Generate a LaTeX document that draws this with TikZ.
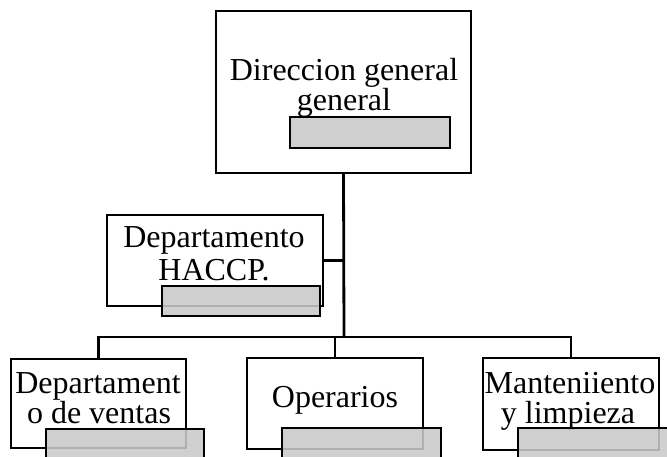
\documentclass[tikz,border=0pt]{standalone}
\usepackage{fontspec}
\setmainfont{Liberation Serif}
\begin{document}
\begin{tikzpicture}[x=1pt,y=-1pt,
  box/.style={draw=black,line width=2.6pt,fill=white,inner sep=0pt,outer sep=0pt},
  tag/.style={draw=black,line width=2.4pt,fill={rgb,255:red,201;green,201;blue,201},fill opacity=0.875,draw opacity=1,inner sep=0pt,outer sep=0pt,anchor=north west},
  lbl/.style={anchor=base,inner sep=0pt,font=\fontsize{32}{32}\selectfont},
  wire/.style={line width=2.8pt}]
\useasboundingbox (0,0) rectangle (667,456);
% boxes
\node[box,minimum width=255pt,minimum height=162pt] (top) at (343.5,92) {};
\node[box,minimum width=216pt,minimum height=91pt] (haccp) at (215,260.5) {};
\node[box,minimum width=175pt,minimum height=89pt] (b1) at (98.5,403.5) {};
\node[box,minimum width=176pt,minimum height=91pt] (b2) at (335,403.5) {};
\node[box,minimum width=176pt,minimum height=92pt] (b3) at (571,404) {};
% connectors
\coordinate (j) at (344,337);
\draw[wire] (top.south) -- (j);
\draw[wire] (haccp.east) -- (haccp.east -| j);
\draw[wire] (b1.north) |- (j) -| (b3.north);
\draw[wire] (b2.north) -- (b2.north |- j);
% texts
\node[lbl] (t1a) at (344,80) {Direccion general};
\node[lbl] (t1b) at (344,110) {general};
\node[lbl] (t2a) at (214,247) {Departamento};
\node[lbl] (t2b) at (214,280) {HACCP.};
\node[lbl] (t3a) at (98,393) {Departament};
\node[lbl] (t3b) at (99,423) {o de ventas};
\node[lbl] (t4) at (335,407) {Operarios};
\node[lbl] (t5a) at (570,393) {Manteniiento};
\node[lbl] (t5b) at (568,423) {y limpieza};
% gray tags
\node[tag,minimum width=160pt,minimum height=31pt] (g1) at (290,117) {};
\node[tag,minimum width=158pt,minimum height=30pt] (g2) at (162,286) {};
\node[tag,minimum width=158pt,minimum height=40pt] (g3) at (46,429) {};
\node[tag,minimum width=159pt,minimum height=40pt] (g4) at (282,428) {};
\node[tag,minimum width=160pt,minimum height=40pt] (g5) at (518,428) {};
\end{tikzpicture}
\end{document}
